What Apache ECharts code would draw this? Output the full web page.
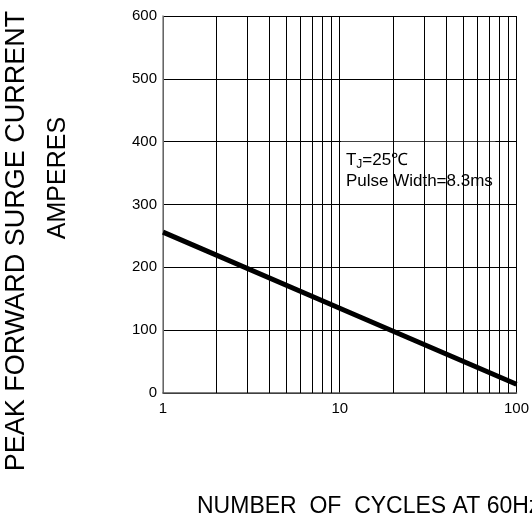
<!DOCTYPE html>
<html>
<head>
<meta charset="utf-8">
<script src="https://cdn.jsdelivr.net/npm/echarts@6/dist/echarts.min.js"></script>
<style>
  html, body { margin: 0; padding: 0; background: #fff; }
  #surge_chart { width: 532px; height: 520px; }
</style>
</head>
<body>
<div id="surge_chart"></div>
<script>
// number of cycles (log axis) and peak surge current
var cycles = [1, 10, 100];
var surgeAmps = [256, 135, 14];
// minor vertical grid lines of the log paper
var minorGridX = [2, 3, 4, 5, 6, 7, 8, 9, 20, 30, 40, 50, 60, 70, 80, 90];
var yTicks = [0, 100, 200, 300, 400, 500, 600];
var xTickLabels = ['1', '10', '100'];

var fontName = '"Liberation Sans", Arial, sans-serif';
var myChart = echarts.init(document.getElementById('surge_chart'));

var lineData = cycles.map(function (c, i) { return [c, surgeAmps[i]]; });

var options = {
    animation: false,
    grid: {
        left: 163,
        right: 14,
        top: 16,
        bottom: 127
    },
    xAxis: {
        type: 'log',
        logBase: 10,
        min: 1,
        max: 100,
        axisLine: { show: true, onZero: false, lineStyle: { color: '#555', width: 1.5 } },
        axisTick: { show: false },
        splitLine: { show: true, lineStyle: { color: '#000', width: 1 } },
        axisLabel: {
            color: '#000',
            fontSize: 15,
            fontFamily: fontName,
            margin: 8,
            formatter: function (v) {
                var s = String(Math.round(v));
                return xTickLabels.indexOf(s) >= 0 ? s : '';
            }
        }
    },
    yAxis: {
        type: 'value',
        min: yTicks[0],
        max: yTicks[yTicks.length - 1],
        interval: 100,
        axisLine: { show: true, lineStyle: { color: '#888', width: 1.5 } },
        axisTick: { show: false },
        splitLine: { show: true, lineStyle: { color: '#000', width: 1 } },
        axisLabel: {
            color: '#000',
            fontSize: 15,
            fontFamily: fontName,
            margin: 6
        }
    },
    graphic: [
        {
            type: 'text',
            x: 17,
            y: 241,
            rotation: Math.PI / 2,
            style: {
                text: 'PEAK FORWARD SURGE CURRENT',
                font: '27px ' + fontName,
                fill: '#000',
                align: 'center',
                verticalAlign: 'middle'
            }
        },
        {
            type: 'text',
            x: 58,
            y: 178,
            rotation: Math.PI / 2,
            style: {
                text: 'AMPERES',
                font: '25px ' + fontName,
                fill: '#000',
                align: 'center',
                verticalAlign: 'middle'
            }
        },
        {
            type: 'text',
            x: 197,
            y: 507,
            style: {
                text: 'NUMBER  OF  CYCLES AT 60Hz',
                font: '23px ' + fontName,
                fill: '#000',
                align: 'left',
                verticalAlign: 'middle'
            }
        }
    ],
    series: [
        {
            // minor grid of the log paper
            name: 'grid',
            type: 'line',
            z: 1,
            silent: true,
            data: [],
            markLine: {
                silent: true,
                symbol: ['none', 'none'],
                label: { show: false },
                lineStyle: { color: '#000', width: 1, type: 'solid' },
                data: minorGridX.map(function (v) { return { xAxis: v }; })
            }
        },
        {
            // condition note box
            name: 'note',
            type: 'line',
            z: 2,
            silent: true,
            data: [],
            markArea: {
                silent: true,
                itemStyle: { color: '#fff', opacity: 1 },
                label: {
                    show: true,
                    position: 'insideTopLeft',
                    distance: 0,
                    padding: [8, 0, 0, 5],
                    fontFamily: fontName,
                    color: '#000',
                    formatter: '{t|T}{j|J}{t|=25℃}\n{t|Pulse Width=8.3ms}',
                    rich: {
                        t: { fontSize: 17, lineHeight: 21, color: '#000', fontFamily: fontName },
                        j: { fontSize: 12, lineHeight: 21, color: '#000', fontFamily: fontName, verticalAlign: 'bottom' }
                    }
                },
                data: [[{ coord: [10.15, 400] }, { coord: [76, 312] }]]
            }
        },
        {
            name: 'surge',
            type: 'line',
            z: 3,
            data: lineData,
            showSymbol: false,
            lineStyle: { color: '#000', width: 5 },
            itemStyle: { color: '#000' }
        }
    ]
};

myChart.setOption(options);
</script>
</body>
</html>
